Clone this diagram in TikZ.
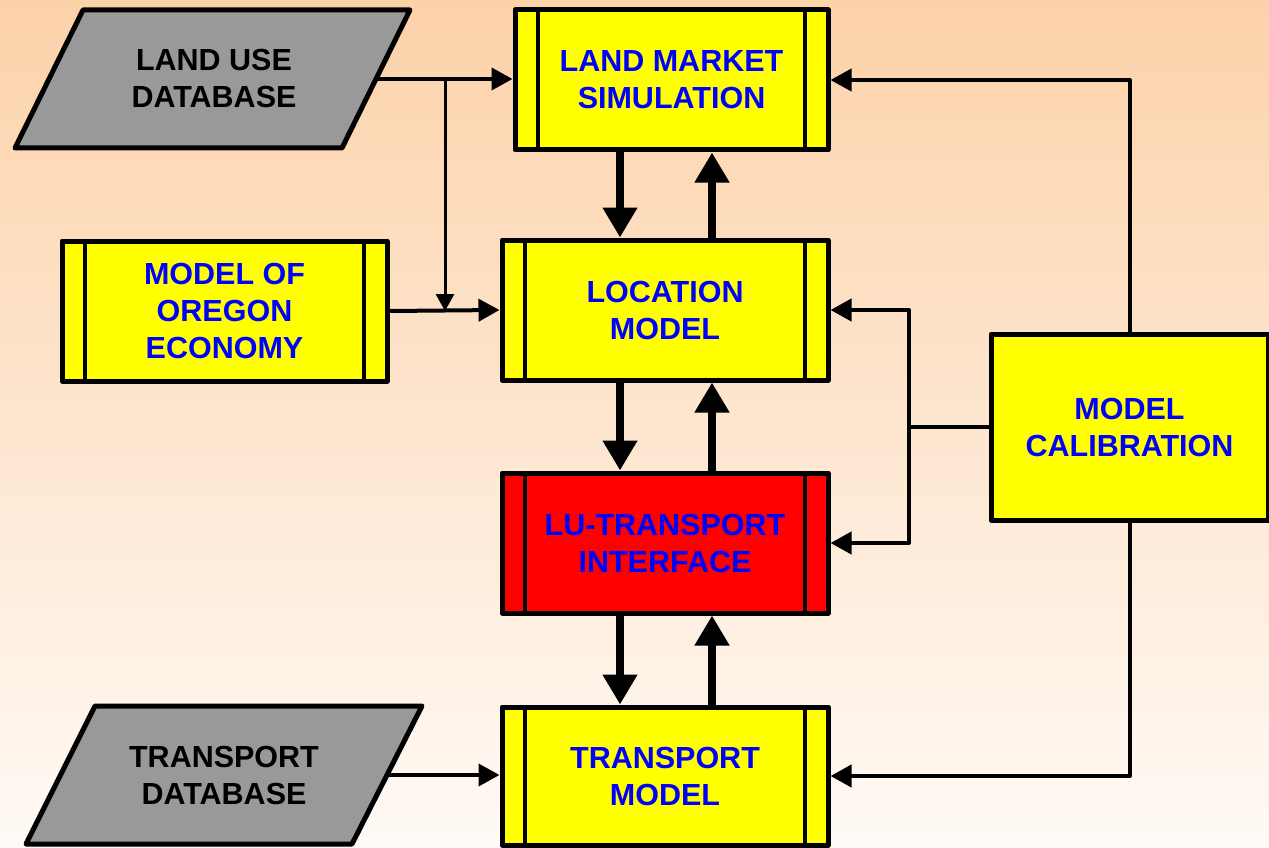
\documentclass[tikz,border=0pt]{standalone}
\usepackage{fontspec}
\setmainfont{Liberation Sans}
\usetikzlibrary{arrows.meta}

\definecolor{peach}{HTML}{FCD2A9}
\definecolor{cream}{HTML}{FFFAF6}
\definecolor{boxyellow}{HTML}{FFFF00}
\definecolor{boxred}{HTML}{FF0000}
\definecolor{dbgray}{HTML}{999999}
\definecolor{labelblue}{HTML}{0000FF}

\tikzset{
  lbl/.style={font=\fontsize{30.5}{37}\selectfont\bfseries, align=center},
  % predefined-process box: rectangle with a vertical bar near each side
  procbox/.style={lbl, draw, line width=5pt, line join=round, fill=boxyellow,
    text=labelblue, inner sep=0pt,
    path picture={
      \draw[line width=4.5pt]
        ([xshift=23pt]path picture bounding box.north west) --
        ([xshift=23pt]path picture bounding box.south west)
        ([xshift=-23pt]path picture bounding box.north east) --
        ([xshift=-23pt]path picture bounding box.south east);
    }},
  plainbox/.style={lbl, draw, line width=5pt, line join=round, fill=boxyellow,
    text=labelblue, inner sep=0pt},
  dbshape/.style={draw, line width=5pt, line join=round, fill=dbgray},
  dbtext/.style={lbl, text=black, inner sep=0pt},
  flow/.style={line width=4pt, line join=round, -{Triangle[length=21pt,width=22pt]}},
  feed/.style={line width=3pt, -{Triangle[length=17pt,width=18pt]}},
  bigflow/.style={line width=8pt, line cap=round, -{Triangle[length=30pt,width=33pt]}},
}

\begin{document}
\begin{tikzpicture}[x=1pt,y=-1pt]
  % background
  \shade[top color=peach, bottom color=cream] (0,0) rectangle (1269,848);
  \useasboundingbox (0,0) rectangle (1269,848);

  % data stores (parallelograms)
  \draw[dbshape] (83,10) -- (410,10) -- (342,148) -- (15,148) -- cycle;
  \node[dbtext] (ludb) at (214,79) {LAND USE\\DATABASE};
  \coordinate (ludbout) at (376,79);
  \draw[dbshape] (95,706) -- (422,706) -- (352,844) -- (26,844) -- cycle;
  \node[dbtext] (tdb) at (224,775) {TRANSPORT\\DATABASE};
  \coordinate (tdbout) at (387,775);

  % model blocks
  \node[procbox, minimum width=313, minimum height=140] (lms) at (671.5,80) {LAND MARKET\\SIMULATION};
  \node[procbox, minimum width=325, minimum height=140] (oregon) at (224.5,311) {MODEL OF\\OREGON\\ECONOMY};
  \node[procbox, minimum width=326, minimum height=140] (loc) at (665,310) {LOCATION\\MODEL};
  \node[procbox, fill=boxred, minimum width=326, minimum height=140] (lu) at (665,543) {LU-TRANSPORT\\INTERFACE};
  \node[procbox, minimum width=326, minimum height=138] (tm) at (665,776) {TRANSPORT\\MODEL};
  \node[plainbox, minimum width=277, minimum height=186] (cal) at (1129.5,427) {MODEL\\CALIBRATION};

  % routing points
  \coordinate (split) at (445,79);
  \coordinate (dn) at (620,0);
  \coordinate (up) at (712,0);
  \coordinate (bus) at (909,427);

  % database inputs
  \draw[flow] (ludbout) -- (ludbout -| lms.west);
  \draw[feed] (split) -- (split |- oregon.east);
  \draw[flow] (oregon.east) -- (loc.west);
  \draw[flow] (tdbout) -- (tdbout -| tm.west);

  % two-way links down the model chain
  \draw[bigflow] (lms.south -| dn) -- (loc.north -| dn);
  \draw[bigflow] (loc.north -| up) -- (lms.south -| up);
  \draw[bigflow] (loc.south -| dn) -- (lu.north -| dn);
  \draw[bigflow] (lu.north -| up) -- (loc.south -| up);
  \draw[bigflow] (lu.south -| dn) -- (tm.north -| dn);
  \draw[bigflow] (tm.north -| up) -- (lu.south -| up);

  % calibration feedback
  \draw[flow] (cal.north) |- (lms.east);
  \draw[flow] (cal.south) |- (tm.east);
  \draw[line width=4pt] (cal.west) -- (bus);
  \draw[flow] (bus) |- (loc.east);
  \draw[flow] (bus) |- (lu.east);
\end{tikzpicture}
\end{document}
